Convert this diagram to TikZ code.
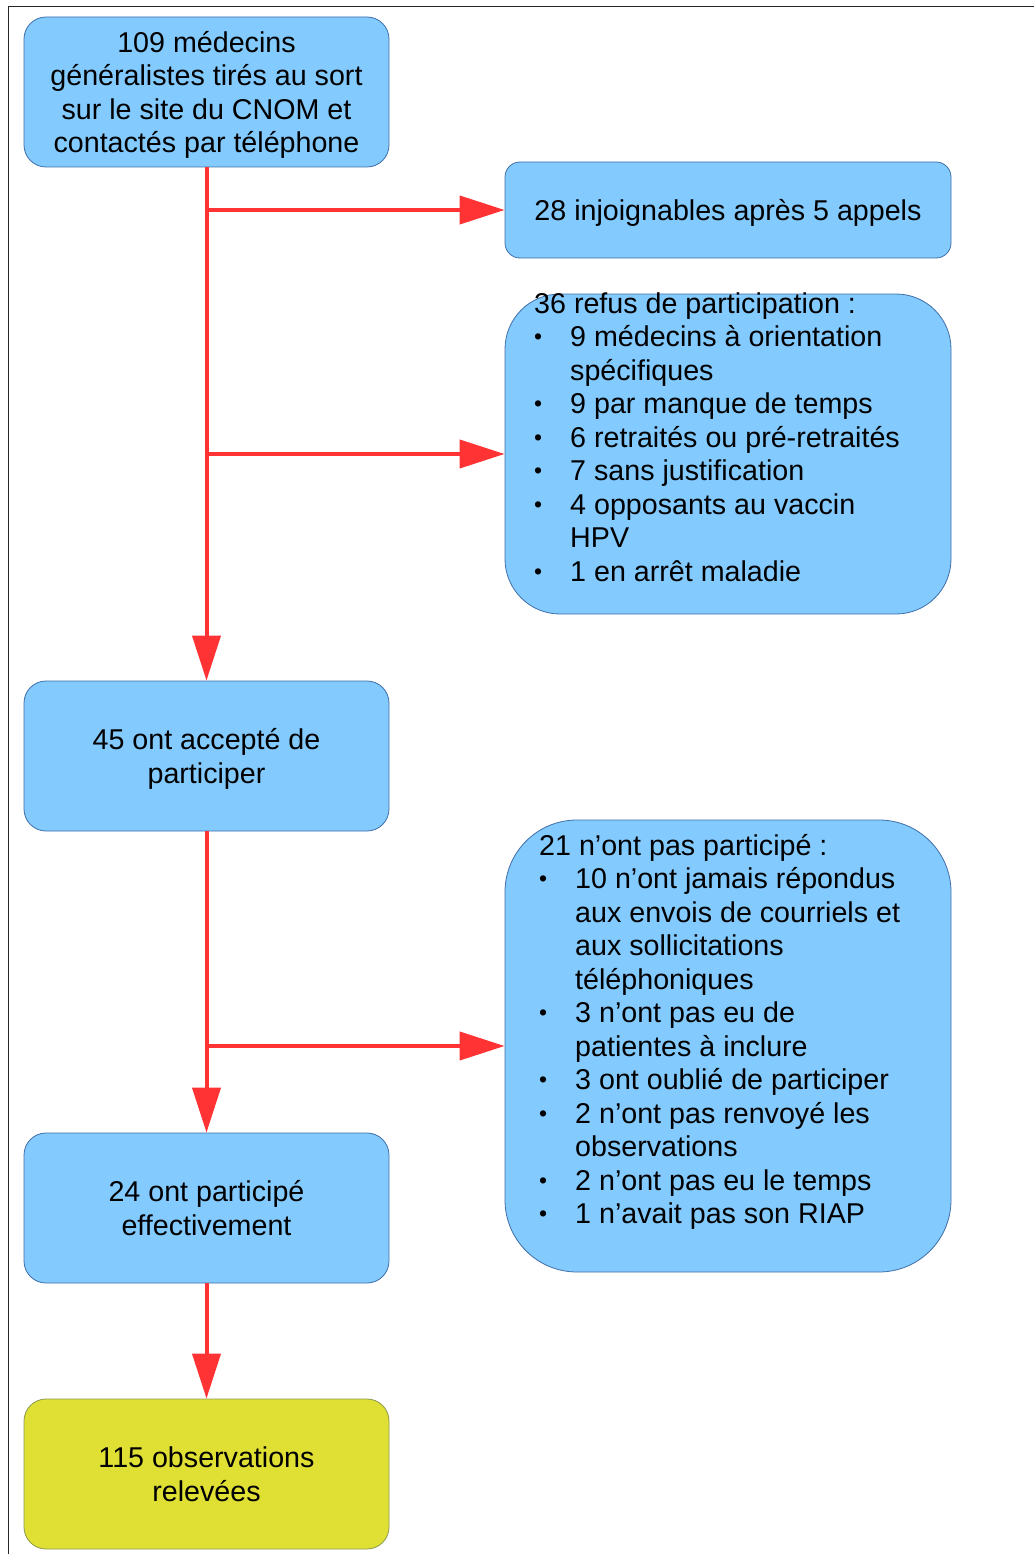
\documentclass[tikz,border=0pt]{standalone}
\usepackage{fontspec}
\setmainfont{Liberation Sans}
\usetikzlibrary{arrows.meta}
\definecolor{boite}{HTML}{83CAFF}
\definecolor{bord}{HTML}{3F6FA8}
\definecolor{jaune}{HTML}{E0E034}
\definecolor{bordjaune}{HTML}{8C9A50}
\definecolor{fleche}{HTML}{FF3333}
\newcommand{\puce}{\raisebox{1.8pt}{\scalebox{0.8}{\textbullet}}}
\begin{document}
\begin{tikzpicture}
	[
		x=1pt,
		y=-1pt,
		line join=round,
		every node/.style={font=\fontsize{28.65}{33.5}\selectfont, text=black},
		boitebleue/.style={draw=bord, line width=0.8pt, fill=boite, inner sep=0pt, rounded corners=22pt, minimum width=365pt, minimum height=150pt, align=center, text depth=0pt},
		boitelarge/.style={draw=bord, line width=0.8pt, fill=boite, inner sep=0pt, minimum width=446pt},
		lien/.style={draw=fleche, line width=4pt, -{Triangle[width=28pt,length=45pt]}}
	]
		\useasboundingbox (0,0) rectangle (1034,1554);
		\draw [line width=1pt, color=black!85] (8,1554) -- (8,7) -- (1034,7);

		\node [boitebleue] (tirage) at (206.5,92) {109 médecins\\généralistes tirés au sort\\sur le site du CNOM et\\contactés par téléphone};
		\node [boitelarge, rounded corners=15pt, minimum height=96pt, text depth=0pt] (injoign) at (728,210) {28 injoignables après 5 appels};
		\node [boitelarge, rounded corners=55pt, minimum height=320pt] (refus) at (728,454) {};
		\node [boitebleue] (accept) at (206.5,756) {45 ont accepté de\\participer};
		\node [boitelarge, rounded corners=72pt, minimum height=452pt] (nonpart) at (728,1046) {};
		\node [boitebleue] (particip) at (206.5,1208) {24 ont participé\\effectivement};
		\node [boitebleue, fill=jaune, draw=bordjaune] (observ) at (206.5,1474) {115 observations\\relevées};

		\node [anchor=north west, inner sep=0pt] (txtrefus) at (534,289.5) {%
			\begin{tabular}{@{}p{36pt}@{}l@{}}
				\multicolumn{2}{@{}l@{}}{36 refus de participation :}\\
				\puce & 9 médecins à orientation\\
				& spécifiques\\
				\puce & 9 par manque de temps\\
				\puce & 6 retraités ou pré-retraités\\
				\puce & 7 sans justification\\
				\puce & 4 opposants au vaccin\\
				& HPV\\
				\puce & 1 en arrêt maladie
			\end{tabular}};
		\node [anchor=north west, inner sep=0pt] (txtnonpart) at (539,831.5) {%
			\begin{tabular}{@{}p{36pt}@{}l@{}}
				\multicolumn{2}{@{}l@{}}{21 n’ont pas participé :}\\
				\puce & 10 n’ont jamais répondus\\
				& aux envois de courriels et\\
				& aux sollicitations\\
				& téléphoniques\\
				\puce & 3 n’ont pas eu de\\
				& patientes à inclure\\
				\puce & 3 ont oublié de participer\\
				\puce & 2 n’ont pas renvoyé les\\
				& observations\\
				\puce & 2 n’ont pas eu le temps\\
				\puce & 1 n’avait pas son RIAP
			\end{tabular}};

		\draw [lien] (tirage.south) -- (accept.north);
		\draw [lien] (tirage.south |- injoign.west) -- (injoign.west);
		\draw [lien] (tirage.south |- refus.west) -- (refus.west);
		\draw [lien] (accept.south) -- (particip.north);
		\draw [lien] (accept.south |- nonpart.west) -- (nonpart.west);
		\draw [lien] (particip.south) -- (observ.north);
\end{tikzpicture}
\end{document}
